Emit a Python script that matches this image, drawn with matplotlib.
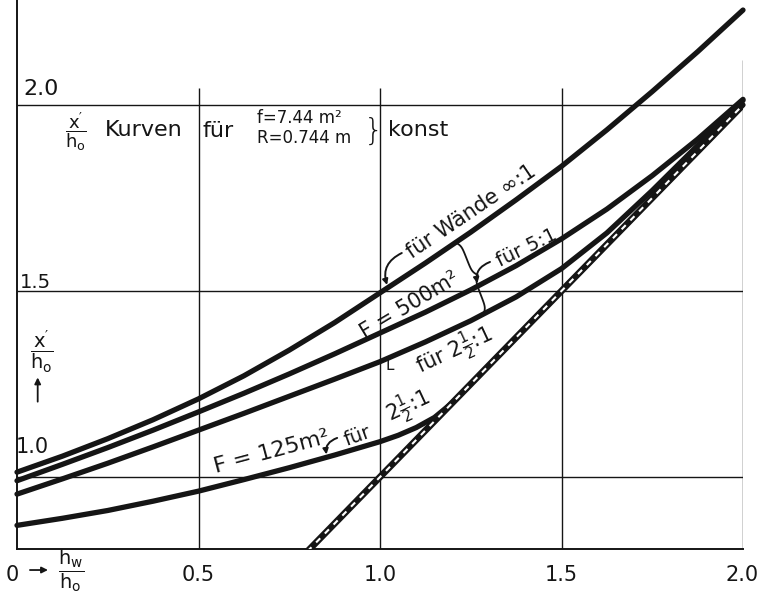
import numpy as np
import matplotlib
matplotlib.use("Agg")
import matplotlib.pyplot as plt

plt.rcParams['font.family'] = ['DejaVu Sans']
plt.rcParams['mathtext.fontset'] = 'dejavusans'
plt.rcParams['mathtext.default'] = 'regular'

# ---------------- data ----------------
x_grid = [0, 0.125, 0.25, 0.375, 0.5, 0.625, 0.75, 0.875, 1.0,
          1.125, 1.25, 1.375, 1.5, 1.625, 1.75, 1.875, 2.0]
# walls infinity:1, F = 500 m^2
y_inf = [1.013, 1.056, 1.103, 1.154, 1.210, 1.272, 1.341, 1.415, 1.495,
         1.575, 1.658, 1.745, 1.835, 1.933, 2.036, 2.143, 2.255]
# 5:1, F = 500 m^2
y_5 = [0.990, 1.034, 1.079, 1.126, 1.175, 1.225, 1.277, 1.331, 1.387,
       1.443, 1.503, 1.568, 1.640, 1.720, 1.810, 1.908, 2.015]
# 2 1/2:1, F = 500 m^2
y_25 = [0.954, 0.995, 1.037, 1.081, 1.126, 1.171, 1.217, 1.263, 1.310,
        1.363, 1.420, 1.484, 1.560, 1.656, 1.770, 1.891, 2.012]
# 2 1/2:1, F = 125 m^2 (joins the diagonal near 1.2)
x_125 = [0, 0.125, 0.25, 0.375, 0.5, 0.625, 0.75, 0.875, 1.0, 1.05, 1.1, 1.15, 1.2, 1.5, 2.0]
y_125 = [0.870, 0.889, 0.910, 0.935, 0.962, 0.993, 1.025, 1.059, 1.095, 1.112, 1.133, 1.160, 1.200, 1.500, 2.000]
# diagonal x'/h_o = h_w/h_o
x_diag = [0.8, 2.0]
y_diag = [0.8, 2.0]

x_ticks = [0, 0.5, 1.0, 1.5, 2.0]
x_ticklabels = ['0', '0.5', '1.0', '1.5', '2.0']
y_ticks = [1.0, 1.5, 2.0]
y_ticklabels = ['1.0', '1.5', '2.0']

INK = '#151515'

fig = plt.figure(figsize=(7.58, 5.93), dpi=100)
ax = fig.add_axes([17/758, 44/593, 726/758, 549/593])
ax.set_xlim(0, 2.0)
ax.set_ylim(0.8065, 2.282)
for s in ['top', 'right']:
    ax.spines[s].set_visible(False)
for s in ['left', 'bottom']:
    ax.spines[s].set_linewidth(1.4)
    ax.spines[s].set_color(INK)
ax.set_xticks([])
ax.set_yticks([])

# grid
ax.hlines(y_ticks, 0, 2.0, color=INK, lw=1.0, zorder=1)
ax.vlines(x_ticks[1:4], 0.8065, 2.045, color=INK, lw=1.0, zorder=1)
ax.vlines([x_ticks[4]], 0.8065, 2.12, color=INK, lw=1.0, zorder=1)

LW = 3.8
kw = dict(color=INK, lw=LW, solid_capstyle='round', solid_joinstyle='round', clip_on=False, zorder=3)
ax.plot(x_grid, y_inf, **kw)
ax.plot(x_grid, y_5, **kw)
ax.plot(x_grid, y_25, **kw)
ax.plot(x_125, y_125, **kw)
# diagonal: black band with white dashes
ax.plot(x_diag, y_diag, color=INK, lw=4.8, solid_capstyle='butt', zorder=4)
ax.plot(x_diag, y_diag, color='white', lw=1.5, dashes=(2.8, 3.2), zorder=5)

# tick labels
for xv, lab in zip(x_ticks, x_ticklabels):
    xx = xv
    if lab == '0':
        xx = -0.012
    if lab == '2.0':
        xx = 1.997
    ax.text(xx, 0.737, lab, ha='center', va='center', fontsize=15, color=INK, clip_on=False)
ax.text(0.066, 2.043, y_ticklabels[2], ha='center', va='center', fontsize=16, color=INK)
ax.text(0.050, 1.522, y_ticklabels[1], ha='center', va='center', fontsize=14, color=INK)
ax.text(0.041, 1.081, y_ticklabels[0], ha='center', va='center', fontsize=15, color=INK)

# axis labels
ax.annotate('', xy=(0.093, 0.75), xytext=(0.028, 0.75), annotation_clip=False,
            arrowprops=dict(arrowstyle='-|>', lw=1.3, color=INK, mutation_scale=9))
ax.text(0.150, 0.748, r'$\dfrac{h_w}{h_o}$', ha='center', va='center', fontsize=14, color=INK, clip_on=False)
ax.text(0.069, 1.336, r"$\dfrac{x^{\prime}}{h_o}$", ha='center', va='center', fontsize=14, color=INK)
ax.annotate('', xy=(0.057, 1.275), xytext=(0.057, 1.195),
            arrowprops=dict(arrowstyle='-|>', lw=1.3, color=INK, mutation_scale=9))

# heading
ax.text(0.163, 1.929, r"$\dfrac{x^{\prime}}{h_o}$", ha='center', va='center', fontsize=13, color=INK)
ax.text(0.350, 1.933, 'Kurven', ha='center', va='center', fontsize=16, color=INK)
ax.text(0.511, 1.931, 'für', ha='left', va='center', fontsize=16, color=INK)
ax.text(0.661, 1.965, 'f=7.44 m²', ha='left', va='center', fontsize=12, color=INK)
ax.text(0.661, 1.911, 'R=0.744 m', ha='left', va='center', fontsize=12, color=INK)
ax.text(0.981, 1.929, '}', ha='center', va='center', fontsize=22, color=INK, fontweight='light')
ax.text(1.023, 1.933, 'konst', ha='left', va='center', fontsize=16, color=INK)

# curve labels
ax.text(1.251, 1.712, 'für Wände ∞:1', ha='center', va='center', rotation=34, fontsize=15,
        color=INK, rotation_mode='anchor')
ax.text(1.083, 1.462, 'F = 500m²', ha='center', va='center', rotation=31, fontsize=15,
        color=INK, rotation_mode='anchor')
ax.text(1.405, 1.616, 'für 5:1', ha='center', va='center', rotation=26, fontsize=14,
        color=INK, rotation_mode='anchor')
ax.text(1.205, 1.338, r'für $2\frac{1}{2}$:1', ha='center', va='center', rotation=25, fontsize=15,
        color=INK, rotation_mode='anchor')
ax.text(1.028, 1.300, 'L', ha='center', va='center', fontsize=11, color=INK)
ax.text(0.702, 1.067, 'F = 125m²', ha='center', va='center', rotation=15, fontsize=16,
        color=INK, rotation_mode='anchor')
ax.text(0.937, 1.110, 'für', ha='center', va='center', rotation=20, fontsize=14,
        color=INK, rotation_mode='anchor')
ax.text(1.077, 1.188, r'$2\frac{1}{2}$:1', ha='center', va='center', rotation=25, fontsize=15,
        color=INK, rotation_mode='anchor')

# hook arrows pointing onto the curves
def hook(x_from, y_from, xc, curve_x, curve_y, rad):
    yc = float(np.interp(xc, curve_x, curve_y))
    ax.annotate('', xy=(xc, yc), xytext=(x_from, y_from),
                arrowprops=dict(arrowstyle='-|>', lw=1.4, color=INK, mutation_scale=8,
                                shrinkA=0, shrinkB=2,
                                connectionstyle=f'arc3,rad={rad}'), zorder=6)

hook(1.060, 1.602, 1.022, x_grid, y_inf, 0.45)
hook(1.303, 1.578, 1.270, x_grid, y_5, 0.45)
hook(0.882, 1.105, 0.854, x_125, y_125, 0.45)

# curly brace joining the three F = 500 m^2 curves
def brace(xa, ya, xb, yb, width_px, beta=30.0):
    pa = ax.transData.transform((xa, ya))
    pb = ax.transData.transform((xb, yb))
    d = pb - pa
    L = np.hypot(*d)
    u = d / L
    n = np.array([u[1], -u[0]])
    if n[0] < 0:
        n = -n
    t = np.linspace(0, 0.5, 60)
    h = 1/(1+np.exp(-beta*(t-0.0))) + 1/(1+np.exp(-beta*(t-0.5)))
    h = h - h[0]
    h = h / h[-1]
    tt = np.concatenate([t, 1 - t[::-1]])
    hh = np.concatenate([h, h[::-1]])
    pts = pa[None, :] + tt[:, None]*d[None, :] + (hh[:, None]*width_px)*n[None, :]
    dp = ax.transData.inverted().transform(pts)
    ax.plot(dp[:, 0], dp[:, 1], color=INK, lw=1.3, zorder=6)

xa = 1.208
xb = 1.285
brace(xa, float(np.interp(xa, x_grid, y_inf)), xb, float(np.interp(xb, x_grid, y_25)), 9)

fig.savefig('out.png', dpi=100, facecolor='white')
